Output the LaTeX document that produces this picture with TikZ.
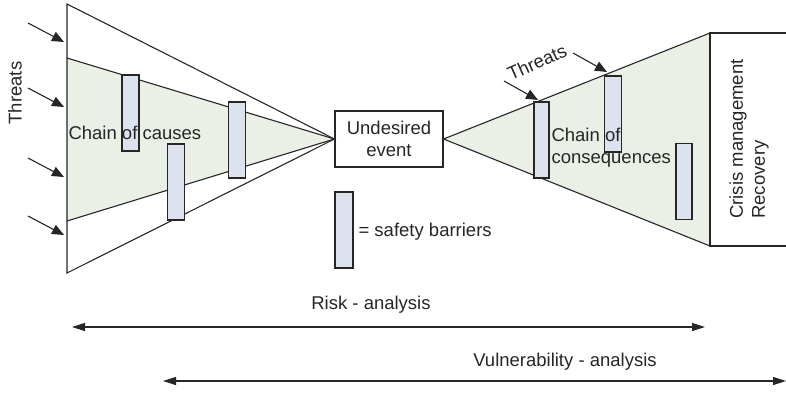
\documentclass[tikz,border=0pt]{standalone}
\usepackage{xcolor}
\usepackage{fontspec}
\setmainfont{Liberation Sans}
\usepackage{tikz}
\usetikzlibrary{arrows.meta}
\definecolor{chaingreen}{HTML}{EAF0E6}
\definecolor{barrierblue}{HTML}{DCE2EE}
\definecolor{linegray}{HTML}{262626}

\begin{document}
\begin{tikzpicture}[x=1pt,y=-1pt,line width=1.1pt,draw=linegray,
	every node/.style={font=\fontsize{18.5}{22}\selectfont,text=linegray},
	barrier/.style={draw,fill=barrierblue,minimum width=17pt,minimum height=76pt,inner sep=0pt},
	threat/.style={-{Triangle[length=12pt,width=10pt]}},
	span/.style={{Triangle[length=13pt,width=8pt]}-{Triangle[length=13pt,width=8pt]}}]
	\useasboundingbox (0,0) rectangle (786,392);
	\pgfmathsetmacro{\leftX}{67}
	\pgfmathsetmacro{\rightX}{710}
	
	% Undesired event in the middle
	\node[draw,fill=white,minimum width=108pt,minimum height=56pt,inner sep=0pt,align=center] (event) at (389,139) {Undesired\\event};
	
	% Left side - chain of causes
	\fill[chaingreen] (\leftX,58) -- (event.west) -- (\leftX,221) -- cycle;
	\draw (\leftX,58) -- (event.west) -- (\leftX,221);
	\draw (\leftX,4) -- (event.west) -- (\leftX,273) -- cycle;
	\node[barrier] (barA) at (130.5,113) {};
	\node[barrier] (barB) at (176,182) {};
	\node[barrier] (barC) at (237,140) {};
	\node[anchor=west,inner sep=0pt] (causes) at (68,133) {Chain of causes};
	\foreach \y [count=\i] in {42,107,177,235} {
		\coordinate (inL\i) at (64,\y);
		\coordinate (outL\i) at (28,\y-19);
		\draw[threat] (outL\i) -- (inL\i);
	}
	\node[rotate=90] (threatsL) at (15,93) {Threats};
	
	% Right side - chain of consequences
	\fill[chaingreen] (event.east) -- (\rightX,33) -- (\rightX,246) -- cycle;
	\draw (event.east) -- (\rightX,33) -- (\rightX,246) -- cycle;
	\draw (786,33) -- (\rightX,33) -- (\rightX,246) -- (786,246);
	\node[barrier,minimum width=15pt] (barD) at (541.5,140) {};
	\node[barrier] (barE) at (613,114) {};
	\node[barrier,minimum width=16pt] (barF) at (684,181.5) {};
	\node[anchor=west,align=left,inner sep=0pt] (conseq) at (551,148) {Chain of\\consequences};
	\foreach \x/\y [count=\i] in {538/100,607/72} {
		\coordinate (inR\i) at (\x,\y);
		\coordinate (outR\i) at (\x-34,\y-19);
		\draw[threat] (outR\i) -- (inR\i);
	}
	\node[rotate=24] (threatsR) at (537,62) {Threats};
	\node[rotate=90,align=left,inner sep=0pt] (crisis) at (749,139) {Crisis management\\Recovery};
	
	% Legend
	\node[barrier,minimum width=18pt] (legend) at (344,230) {};
	\node[anchor=west,inner sep=0pt] (legendtext) at (358,232) {= safety barriers};
	
	% Analysis ranges
	\coordinate (riskA) at (72,327);
	\coordinate (riskB) at (705,327);
	\draw[span] (riskA) -- (riskB);
	\node (risk) at (371,305) {Risk - analysis};
	\coordinate (vulA) at (163,381);
	\coordinate (vulB) at (786,381);
	\draw[span] (vulA) -- (vulB);
	\node (vul) at (565,362) {Vulnerability - analysis};
\end{tikzpicture}
\end{document}
